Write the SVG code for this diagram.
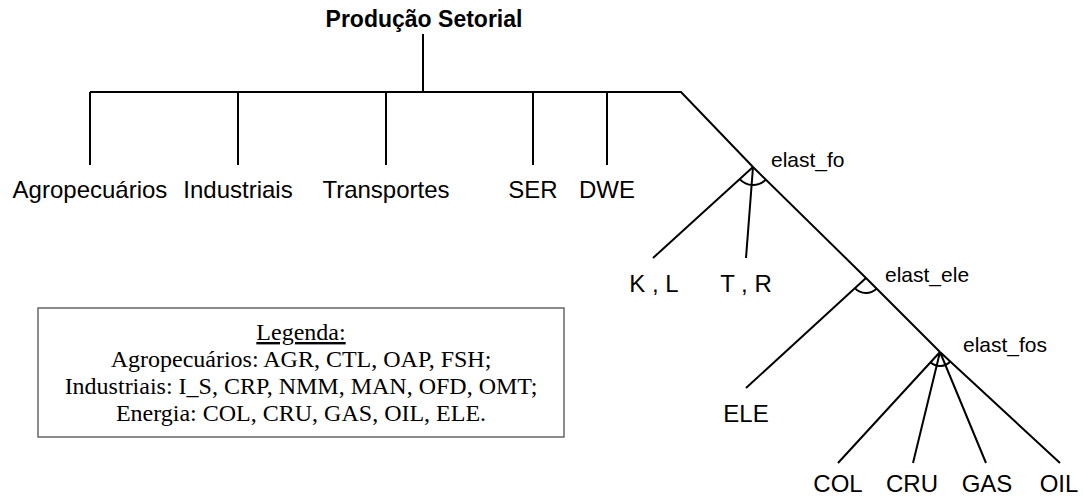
<svg xmlns="http://www.w3.org/2000/svg" width="1083" height="499" viewBox="0 0 1083 499">
<style>
.ln{fill:none;stroke:#000;stroke-width:2;stroke-linecap:butt;stroke-linejoin:miter}
.lbl{font-family:"Liberation Sans",Arial,sans-serif;font-size:24px;fill:#000;text-anchor:middle}
.title{font-family:"Liberation Sans",Arial,sans-serif;font-size:23px;font-weight:bold;fill:#000;text-anchor:middle}
.el{font-family:"Liberation Sans",Arial,sans-serif;font-size:21px;fill:#000}
.leg{font-family:"Liberation Serif","Times New Roman",serif;font-size:24px;fill:#000;text-anchor:middle}
</style>
<rect width="1083" height="499" fill="#fff"/>
<g id="connectors">
<path class="ln" d="M423,34 V92"/>
<path class="ln" d="M90,92 H681 L753,167 L866,278 L940,352"/>
<path class="ln" d="M90,92 V165 M238,92 V165 M386,92 V165 M533,92 V165 M607,92 V165"/>
<path class="ln" d="M753,167 L653,258 M753,167 L746,258"/>
<path class="ln" d="M866,278 L746,388"/>
<path class="ln" d="M940,352 L838,463 M940,352 L913,463 M940,352 L986,463 M940,352 L1060,463"/>
<path class="ln" d="M739.7,179.1 A18,18 0 0 0 765.8,179.6"/>
<path class="ln" d="M854.9,288.1 A15,15 0 0 0 876.6,288.6"/>
<path class="ln" d="M930.5,362.3 A14,14 0 0 0 950.3,361.5"/>
</g>
<g id="producao"><text class="title" x="424" y="27">Produção Setorial</text></g>
<g id="agropecuarios"><text class="lbl" x="90" y="198">Agropecuários</text></g>
<g id="industriais"><text class="lbl" x="238" y="198">Industriais</text></g>
<g id="transportes"><text class="lbl" x="386" y="198">Transportes</text></g>
<g id="ser"><text class="lbl" x="533" y="198">SER</text></g>
<g id="dwe"><text class="lbl" x="607" y="198">DWE</text></g>
<g id="elast_fo"><text class="el" x="771" y="167">elast_fo</text></g>
<g id="kl"><text class="lbl" x="654" y="292">K , L</text></g>
<g id="tr"><text class="lbl" x="746" y="292">T , R</text></g>
<g id="elast_ele"><text class="el" x="885" y="282">elast_ele</text></g>
<g id="ele"><text class="lbl" x="746" y="422">ELE</text></g>
<g id="elast_fos"><text class="el" x="963" y="352">elast_fos</text></g>
<g id="col"><text class="lbl" x="838" y="492">COL</text></g>
<g id="cru"><text class="lbl" x="912" y="492">CRU</text></g>
<g id="gas"><text class="lbl" x="987" y="492">GAS</text></g>
<g id="oil"><text class="lbl" x="1059" y="492">OIL</text></g>
<g id="legenda">
<rect x="38" y="308" width="526" height="129" fill="#fff" stroke="#666" stroke-width="1.5"/>
<text class="leg" x="301" y="340" text-decoration="underline">Legenda:</text>
<text class="leg" x="301" y="367">Agropecuários: AGR, CTL, OAP, FSH;</text>
<text class="leg" x="301" y="394">Industriais: I_S, CRP, NMM, MAN, OFD, OMT;</text>
<text class="leg" x="301" y="421">Energia: COL, CRU, GAS, OIL, ELE.</text>
</g>
</svg>
